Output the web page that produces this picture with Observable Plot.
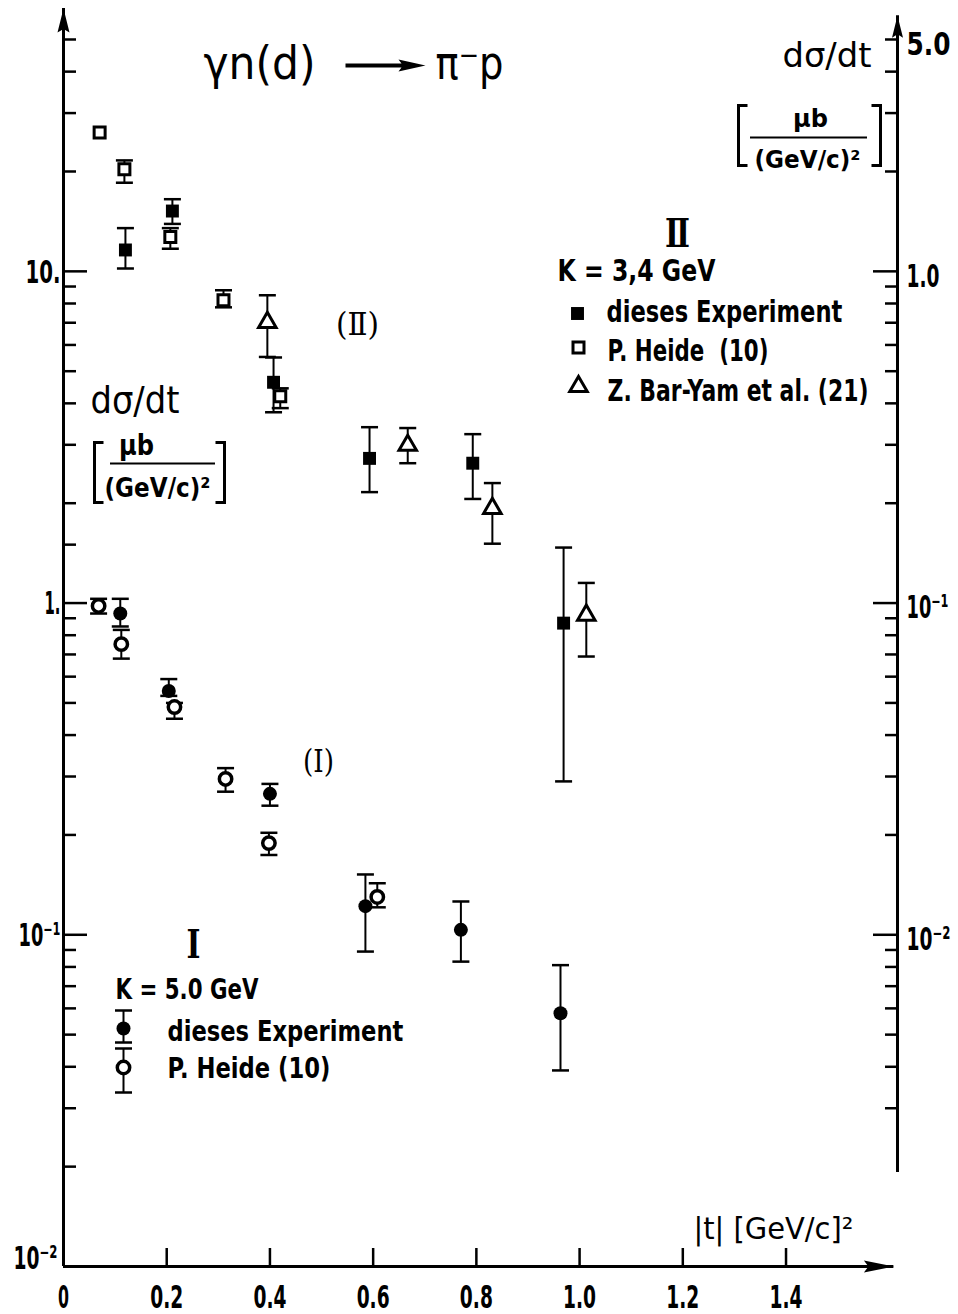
<!DOCTYPE html>
<html><head><meta charset="utf-8">
<script src="https://cdn.jsdelivr.net/npm/d3@7"></script>
<script src="https://cdn.jsdelivr.net/npm/@observablehq/plot@0.6"></script>
<style>html,body{margin:0;padding:0;background:#fff}</style>
</head><body><div id="chart"></div>
<script>
// ---------------- data ----------------
// |t| in (GeV/c)^2 ; dσ/dt in μb/(GeV/c)^2
// Series I : K = 5.0 GeV (left axis)
const tIExp   = [0.11, 0.204, 0.40, 0.585, 0.77, 0.963];
const yIExp   = [0.93, 0.543, 0.266, 0.122, 0.1035, 0.058];
const loIExp  = [0.85, 0.525, 0.245, 0.089, 0.083, 0.039];
const hiIExp  = [1.03, 0.59, 0.285, 0.152, 0.126, 0.081];

const tIHeide  = [0.068, 0.112, 0.215, 0.314, 0.398, 0.608];
const yIHeide  = [0.98, 0.752, 0.486, 0.295, 0.189, 0.130];
const loIHeide = [0.93, 0.68, 0.448, 0.270, 0.174, 0.121];
const hiIHeide = [1.03, 0.83, 0.50, 0.318, 0.203, 0.143];

// Series II : K = 3,4 GeV (right axis)
const tIIExp   = [0.12, 0.211, 0.407, 0.593, 0.793, 0.969];
const yIIExp   = [1.16, 1.52, 0.463, 0.273, 0.264, 0.087];
const loIIExp  = [1.02, 1.39, 0.376, 0.216, 0.206, 0.029];
const hiIIExp  = [1.35, 1.65, 0.55, 0.339, 0.323, 0.147];

const tIIHeide  = [0.07, 0.118, 0.207, 0.31, 0.42];
const yIIHeide  = [2.62, 2.03, 1.27, 0.818, 0.42];
const loIIHeide = [null, 1.85, 1.17, 0.779, 0.387];
const hiIIHeide = [null, 2.16, 1.35, 0.877, 0.444];

const tIIBarYam  = [0.395, 0.667, 0.831, 1.013];
const yIIBarYam  = [0.702, 0.299, 0.193, 0.092];
const loIIBarYam = [0.552, 0.264, 0.151, 0.069];
const hiIIBarYam = [0.847, 0.337, 0.230, 0.115];

// ---------------- ticks ----------------
const xTickValues  = [0.2, 0.4, 0.6, 0.8, 1.0, 1.2, 1.4];
const xLabelValues = [0, 0.2, 0.4, 0.6, 0.8, 1.0, 1.2, 1.4];
const xLabels      = ["0", "0.2", "0.4", "0.6", "0.8", "1.0", "1.2", "1.4"];

const leftLabelValues = [10, 1, 0.1];
const leftLabels      = ["10.", "1.", "10⁻¹"];
const leftOriginValue = [0.01];
const leftOriginLabel = "10⁻²";
const leftMajor       = [10, 1, 0.1];
const leftMinor       = [0.02,0.03,0.04,0.05,0.06,0.07,0.08,0.09,
                         0.2,0.3,0.4,0.5,0.6,0.7,0.8,0.9,1.5,
                         2,3,4,5,6,7,8,9,20,30,40,50];

const rightLabelValues = [5, 1, 0.1, 0.01];
const rightLabels      = ["5.0", "1.0", "10⁻¹", "10⁻²"];
const rightMajor       = [1, 0.1, 0.01];
const rightMinor       = [0.003,0.004,0.005,0.006,0.007,0.008,0.009,
                          0.02,0.03,0.04,0.05,0.06,0.07,0.08,0.09,
                          0.2,0.3,0.4,0.5,0.6,0.7,0.8,0.9,2,3,4,5];
const rightFactor = 10; // left-axis value = 10 × right-axis value

// ---------------- tables ----------------
const table = (t, y, lo, hi, f = 1) => t.map((v, i) => ({
  t: v, y: y[i] * f,
  lo: lo[i] == null ? null : lo[i] * f,
  hi: hi[i] == null ? null : hi[i] * f
}));
const IExp     = table(tIExp, yIExp, loIExp, hiIExp);
const IHeide   = table(tIHeide, yIHeide, loIHeide, hiIHeide);
const IIExp    = table(tIIExp, yIIExp, loIIExp, hiIIExp, rightFactor);
const IIHeide  = table(tIIHeide, yIIHeide, loIIHeide, hiIIHeide, rightFactor);
const IIBarYam = table(tIIBarYam, yIIBarYam, loIIBarYam, hiIIBarYam, rightFactor);

// ---------------- layout ----------------
const ML = 63, MR = 61, MT = 8, MB = 48;
const xRight = 1.616, xArrowTip = 1.609;
const yTop = 62, rightTop = 59, rightBottom = 0.0192;
const F = "DejaVu Sans", FS = "DejaVu Serif";

const sym = f => ({draw(ctx, size) { f(ctx, Math.sqrt(size / Math.PI)); }});
const capSym = sym((c, r) => { c.moveTo(-r, 0); c.lineTo(r, 0); });
const hLine = len => sym(c => { c.moveTo(-len / 2, 0); c.lineTo(len / 2, 0); });
const vLine = len => sym(c => { c.moveTo(0, -len / 2); c.lineTo(0, len / 2); });
const lBracket = (h, w) => sym(c => { c.moveTo(w, -h/2); c.lineTo(0, -h/2); c.lineTo(0, h/2); c.lineTo(w, h/2); });
const rBracket = (h, w) => sym(c => { c.moveTo(-w, -h/2); c.lineTo(0, -h/2); c.lineTo(0, h/2); c.lineTo(-w, h/2); });
const arrowHead = (len, wid) => sym(c => { c.moveTo(0, 0); c.lineTo(wid/2, len); c.lineTo(0, len*0.85); c.lineTo(-wid/2, len); c.closePath(); });
const titleArrow = sym(c => {
  c.moveTo(-40, -2); c.lineTo(16, -2); c.lineTo(13, -6); c.lineTo(40, 0);
  c.lineTo(13, 6); c.lineTo(16, 2); c.lineTo(-40, 2); c.closePath();
});

const at = (X, Y) => ({frameAnchor: "top-left", dx: X - ML, dy: Y - MT});
const note = (txt, X, Y, o = {}) => Plot.text([txt], {
  text: d => d, ...at(X, Y), fontFamily: F, fill: "black",
  textAnchor: "middle", lineAnchor: "middle", ...o
});
const glyph = (symbol, X, Y, o = {}) => Plot.dot([0], {symbol, ...at(X, Y), fill: "none", stroke: "black", ...o});

const errorBars = (data) => {
  const d = data.filter(p => p.lo != null);
  return [
    Plot.ruleX(d, {x: "t", y1: "lo", y2: "hi", strokeWidth: 2}),
    Plot.dot(d, {x: "t", y: "lo", symbol: capSym, r: 8.5, stroke: "black", fill: "none", strokeWidth: 2.5}),
    Plot.dot(d, {x: "t", y: "hi", symbol: capSym, r: 8.5, stroke: "black", fill: "none", strokeWidth: 2.5})
  ];
};

const tickStyle = {strokeWidth: 2.5, label: null, tickFormat: () => ""};
const labStyle = {tickSize: 0, label: null, fontFamily: F, fontSize: 32, fontWeight: "bold"};
const rightLabelPos = rightLabelValues.map(v => v * rightFactor);

const marks = [
  // axis lines + arrows
  Plot.ruleX([0], {y1: () => 0.01, y2: () => yTop, strokeWidth: 3}),
  Plot.ruleY([0.01], {x1: () => 0, x2: () => xArrowTip, strokeWidth: 3}),
  Plot.ruleX([xRight], {y1: () => rightBottom, y2: () => rightTop, strokeWidth: 3}),
  Plot.dot([[0, yTop]], {x: d => d[0], y: d => d[1], symbol: arrowHead(24, 12), fill: "black", stroke: "none"}),
  Plot.dot([[xRight, rightTop]], {x: d => d[0], y: d => d[1], symbol: arrowHead(22, 11), fill: "black", stroke: "none"}),
  Plot.dot([[xArrowTip, 0.01]], {x: d => d[0], y: d => d[1], symbol: arrowHead(30, 12), rotate: 90, fill: "black", stroke: "none"}),

  // ticks (pointing inward)
  Plot.axisY(leftMinor, {anchor: "left", tickSize: -13, ...tickStyle}),
  Plot.axisY(leftMajor, {anchor: "left", tickSize: -24, ...tickStyle}),
  Plot.axisY(rightMinor.map(v => v * rightFactor), {anchor: "right", tickSize: -13, ...tickStyle}),
  Plot.axisY(rightMajor.map(v => v * rightFactor), {anchor: "right", tickSize: -25, ...tickStyle}),
  Plot.axisX(xTickValues, {anchor: "bottom", tickSize: -18, ...tickStyle}),

  // tick labels
  Plot.axisY(leftLabelValues, {anchor: "left", tickPadding: 3, dy: 1, tickFormat: d => leftLabels[leftLabelValues.indexOf(d)], ...labStyle}),
  Plot.axisY(leftOriginValue, {anchor: "left", tickPadding: 6, dy: -8, tickFormat: () => leftOriginLabel, ...labStyle}),
  Plot.axisY(rightLabelPos, {anchor: "right", tickPadding: 9, dy: 5, tickFormat: d => rightLabels[rightLabelPos.indexOf(d)], ...labStyle}),
  Plot.axisX(xLabelValues, {anchor: "bottom", tickPadding: 19, tickFormat: d => xLabels[xLabelValues.indexOf(d)], ...labStyle}),

  // error bars
  ...errorBars(IExp), ...errorBars(IHeide),
  ...errorBars(IIExp), ...errorBars(IIHeide), ...errorBars(IIBarYam),

  // markers
  Plot.dot(IHeide, {x: "t", y: "y", symbol: "circle", r: 6.2, fill: "white", stroke: "black", strokeWidth: 3.5}),
  Plot.dot(IExp, {x: "t", y: "y", symbol: "circle", r: 7, fill: "black", stroke: "none"}),
  Plot.dot(IIHeide, {x: "t", y: "y", symbol: "square", r: 6.2, fill: "white", stroke: "black", strokeWidth: 3}),
  Plot.dot(IIExp, {x: "t", y: "y", symbol: "square", r: 7.3, fill: "black", stroke: "none"}),
  Plot.dot(IIBarYam, {x: "t", y: "y", symbol: "triangle", r: 6.5, fill: "white", stroke: "black", strokeWidth: 3}),

  // title
  note("γn(d)", 203, 64, {textAnchor: "start", fontSize: 46}),
  glyph(titleArrow, 385, 65, {fill: "black", stroke: "none"}),
  note("π⁻p", 435, 64, {textAnchor: "start", fontSize: 46}),

  // right axis title
  note("dσ/dt", 782, 56, {textAnchor: "start", fontSize: 33}),
  glyph(lBracket(60, 9), 738, 135, {strokeWidth: 3}),
  glyph(rBracket(60, 9), 880, 135, {strokeWidth: 3}),
  note("μb", 810, 118, {fontSize: 25, fontWeight: "bold"}),
  glyph(hLine(117), 808, 137, {strokeWidth: 2}),
  note("(GeV/c)²", 807, 159, {fontSize: 25, fontWeight: "bold"}),

  // left axis title
  note("dσ/dt", 90, 401, {textAnchor: "start", fontSize: 37}),
  glyph(lBracket(60, 9), 94, 472, {strokeWidth: 3}),
  glyph(rBracket(60, 9), 224, 472, {strokeWidth: 3}),
  note("μb", 136, 446, {fontSize: 28, fontWeight: "bold"}),
  glyph(hLine(105), 162, 463, {strokeWidth: 2}),
  note("(GeV/c)²", 157, 488, {fontSize: 26, fontWeight: "bold"}),

  // curve labels
  note("(Ⅱ)", 357, 324, {fontSize: 32, fontFamily: FS}),
  note("(Ⅰ)", 318, 761, {fontSize: 32, fontFamily: FS}),

  // legend II
  note("Ⅱ", 677, 234, {fontSize: 40, fontFamily: FS, fontWeight: "bold"}),
  note("K = 3,4 GeV", 557, 271, {textAnchor: "start", fontSize: 30, fontWeight: "bold"}),
  glyph("square", 577, 313, {r: 7.3, fill: "black", stroke: "none"}),
  note("dieses Experiment", 606, 312, {textAnchor: "start", fontSize: 30, fontWeight: "bold"}),
  glyph("square", 578, 347, {r: 6.2, fill: "white", strokeWidth: 3}),
  note("P. Heide  (10)", 607, 351, {textAnchor: "start", fontSize: 30, fontWeight: "bold"}),
  glyph("triangle", 578, 386, {r: 6.5, fill: "white", strokeWidth: 3}),
  note("Z. Bar-Yam et al. (21)", 607, 391, {textAnchor: "start", fontSize: 30, fontWeight: "bold"}),

  // legend I
  note("Ⅰ", 193, 945, {fontSize: 40, fontFamily: FS, fontWeight: "bold"}),
  note("K = 5.0 GeV", 115, 990, {textAnchor: "start", fontSize: 28, fontWeight: "bold"}),
  glyph(vLine(32), 123, 1026, {strokeWidth: 2}),
  glyph(hLine(17), 123, 1010, {strokeWidth: 2.5}),
  glyph(hLine(17), 123, 1042, {strokeWidth: 2.5}),
  glyph("circle", 123, 1028, {r: 7, fill: "black", stroke: "none"}),
  note("dieses Experiment", 167, 1031, {textAnchor: "start", fontSize: 29, fontWeight: "bold"}),
  glyph(vLine(44), 123, 1070, {strokeWidth: 2}),
  glyph(hLine(17), 123, 1048, {strokeWidth: 2.5}),
  glyph(hLine(17), 123, 1092, {strokeWidth: 2.5}),
  glyph("circle", 123, 1067, {r: 6.2, fill: "white", strokeWidth: 3.5}),
  note("P. Heide (10)", 167, 1068, {textAnchor: "start", fontSize: 29, fontWeight: "bold"}),

  // x axis title
  note("|t| [GeV/c]²", 693, 1229, {textAnchor: "start", fontSize: 30})
];

const svg = Plot.plot({
  width: 958, height: 1314,
  marginLeft: ML, marginRight: MR, marginTop: MT, marginBottom: MB,
  x: {domain: [0, xRight], label: null},
  y: {type: "log", domain: [0.01, yTop], label: null},
  style: {fontFamily: F, background: "white", color: "black", overflow: "visible"},
  marks
});
document.getElementById("chart").append(svg);

// match the narrow lettering of the original: squeeze each text horizontally
// about its own anchor point to the width it has in the original
const widths = {
  "0": 11, "0.2": 33, "0.4": 33, "0.6": 33, "0.8": 33, "1.0": 33, "1.2": 33, "1.4": 33,
  "10.": 35, "1.": 16, "10⁻¹": 42, "10⁻²": 44, "5.0": 44,
  "dσ/dt": 89, "μb": 35, "(GeV/c)²": 106,
  "K = 3,4 GeV": 158, "K = 5.0 GeV": 143,
  "dieses Experiment": 236, "P. Heide  (10)": 161, "P. Heide (10)": 163,
  "Z. Bar-Yam et al. (21)": 261, "|t| [GeV/c]²": 160,
  "γn(d)": 112, "π⁻p": 68, "(Ⅱ)": 43, "(Ⅰ)": 31, "Ⅱ": 25, "Ⅰ": 14
};
d3.select(svg).selectAll("text").each(function() {
  const w = widths[this.textContent];
  if (!w) return;
  const nat = this.getComputedTextLength();
  if (!nat) return;
  const s = w / nat;
  const x = parseFloat(this.getAttribute("x")) || 0;
  const t = this.getAttribute("transform") || "";
  this.setAttribute("transform", `${t} translate(${x},0) scale(${s},1) translate(${-x},0)`);
});
</script>
</body></html>
